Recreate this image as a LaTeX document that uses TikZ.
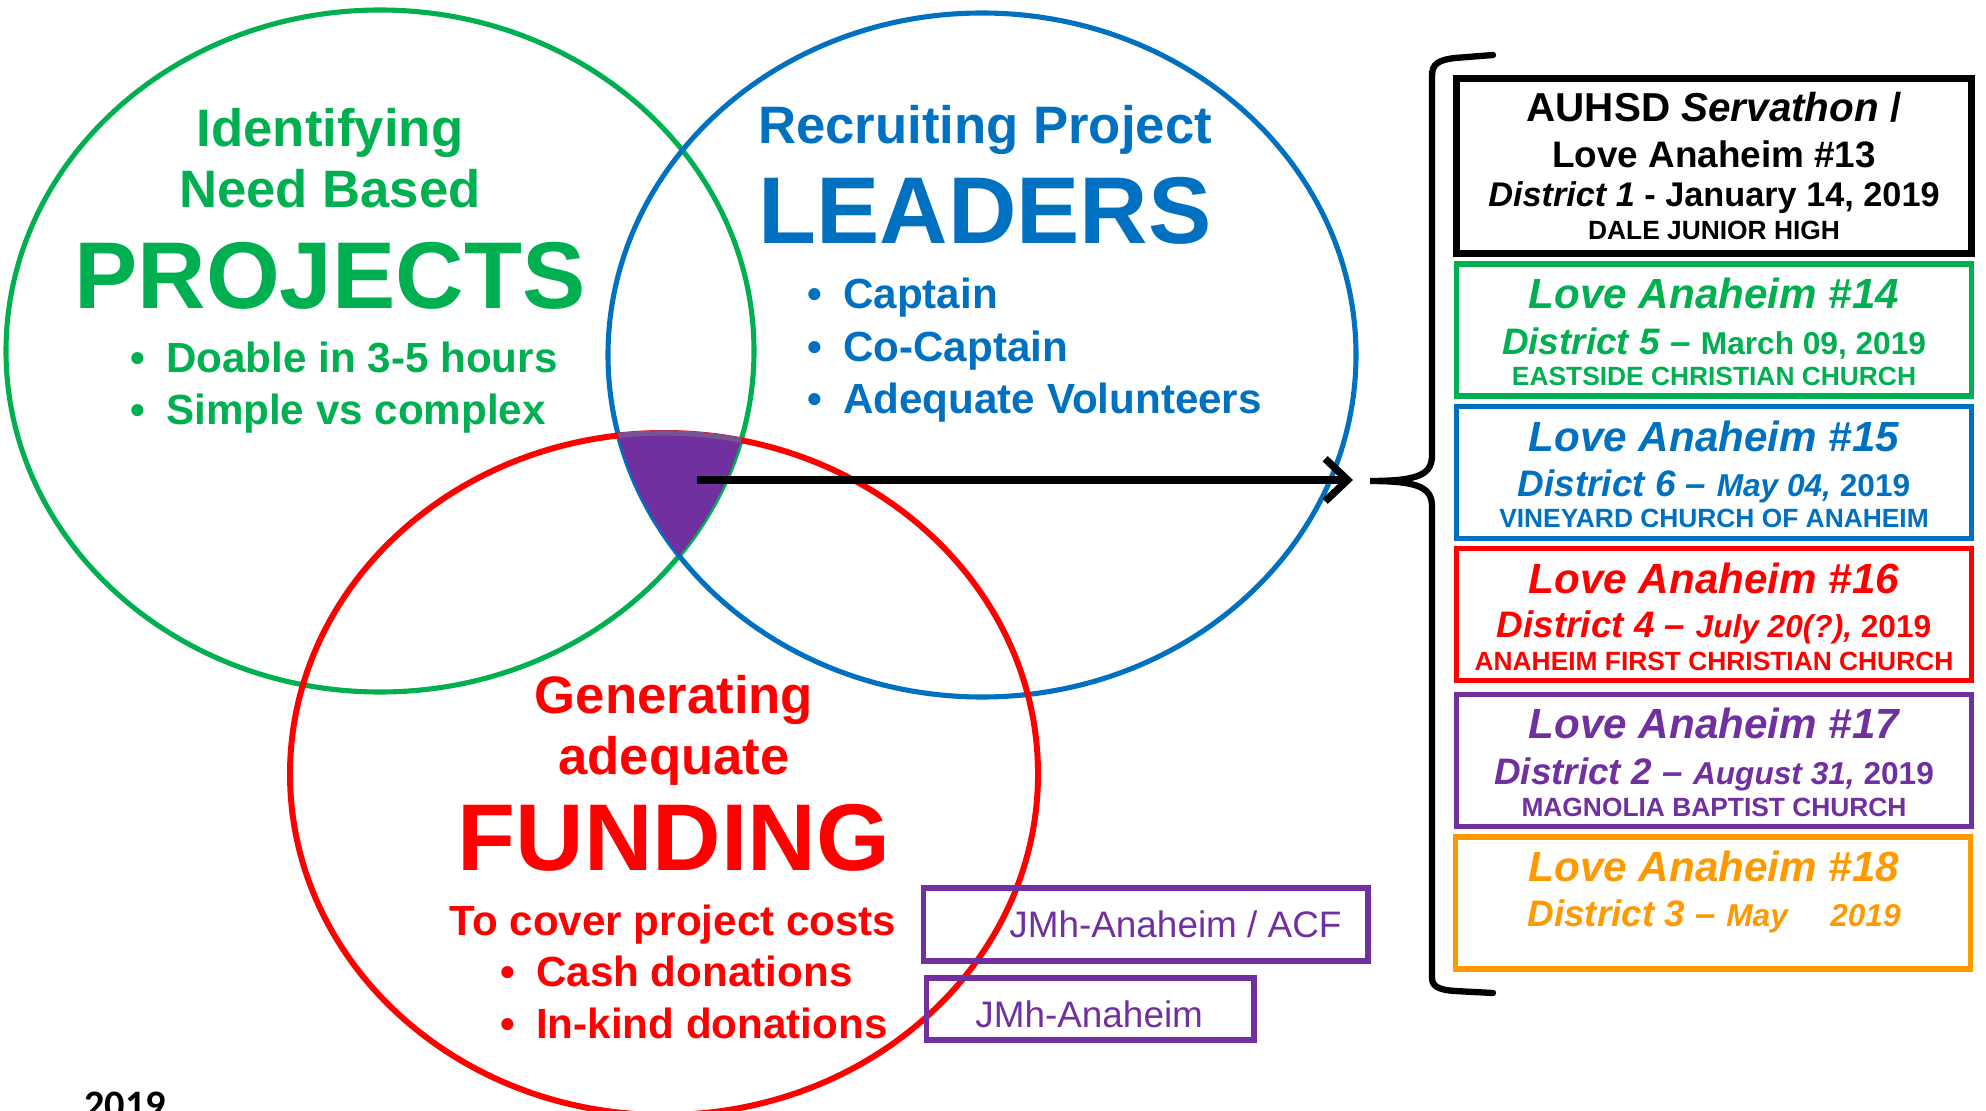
\documentclass[tikz,border=0pt]{standalone}
\usepackage{fontspec}
\setmainfont{Liberation Sans}
\newfontfamily\yearfont{Carlito}
\usetikzlibrary{arrows.meta}

\definecolor{vgreen}{HTML}{00B050}
\definecolor{vblue}{HTML}{0070C0}
\definecolor{vred}{HTML}{FF0000}
\definecolor{vpurple}{HTML}{7030A0}
\definecolor{vorange}{HTML}{FF9900}

\newcommand\datesize{\fontsize{18}{22}\selectfont}
\newcommand\bul{\makebox[0.85em][l]{•}}

\tikzset{
  % outline of each of the three sets
  ring/.style={line width=2.9pt},
  % text placed by its baseline
  txt/.style={inner sep=0pt, anchor=base},
  setlead/.style={txt, font=\fontsize{30}{36}\selectfont\bfseries},
  setword/.style={txt, font=\fontsize{54}{60}\selectfont\bfseries},
  setitem/.style={txt, anchor=base west, font=\fontsize{24}{29}\selectfont\bfseries},
  % boxes on the right
  eventbox/.style={draw, line width=3.3pt, minimum width=10.3cm, minimum height=2.64cm, inner sep=0pt},
  eventtitle/.style={txt, font=\fontsize{24}{29}\selectfont\bfseries\itshape},
  eventdate/.style={txt, font=\fontsize{21}{25}\selectfont\bfseries},
  eventplace/.style={txt, font=\fontsize{15}{18}\selectfont\bfseries},
  % sponsor boxes
  fundbox/.style={draw=vpurple, line width=2.9pt, inner sep=0pt},
  fundtext/.style={txt, anchor=base west, text=vpurple, font=\fontsize{21}{25}\selectfont},
}

\begin{document}
\begin{tikzpicture}[x=0.02cm, y=-0.02cm]
\useasboundingbox (0,0) rectangle (1986,1111);

% Circles
\draw[ring, vgreen] (380,351) ellipse (374 and 341);
\draw[ring, vblue] (982,355) ellipse (374 and 342);
\draw[ring, vred, line width=3.4pt] (664,774) ellipse (374 and 341);

% Common part
\begin{scope}
  \clip (380,351) ellipse (374 and 341);
  \clip (982,355) ellipse (374 and 342);
  \fill[vpurple, draw=vpurple!55!gray, line width=3pt] (664,774) ellipse (374 and 341);
\end{scope}

% Projects
\node[setlead, vgreen] (idf) at (330,147) {Identifying};
\node[setlead, vgreen] (need) at (330,208) {Need Based};
\node[setword, vgreen] (proj) at (330,309) {PROJECTS};
\node[setitem, vgreen] (doable) at (130,372) {\bul Doable in 3-5 hours};
\node[setitem, vgreen] (simple) at (130,424) {\bul Simple vs complex};

% Leaders
\node[setlead, vblue] (recr) at (985,144) {Recruiting Project};
\node[setword, vblue] (lead) at (985,244) {LEADERS};
\node[setitem, vblue] (capt) at (807,309) {\bul Captain};
\node[setitem, vblue] (cocapt) at (807,361) {\bul Co-Captain};
\node[setitem, vblue] (volun) at (807,413) {\bul Adequate Volunteers};

% Funding
\node[setlead, vred] (gen) at (674,713) {Generating};
\node[setlead, vred] (adeq) at (674,774) {adequate};
\node[setword, vred] (fund) at (674,870) {FUNDING};
\node[setitem, vred, anchor=base] (cover) at (673,935) {To cover project costs};
\node[setitem, vred] (cash) at (500,986) {\bul Cash donations};
\node[setitem, vred] (kind) at (500,1038) {\bul In-kind donations};

% Sponsors
\node[fundbox, minimum width=8.9cm, minimum height=1.46cm] (acfbox) at (1145.5,924.5) {};
\node[fundtext] (acf) at (1009,937) {JMh-Anaheim / ACF};
\node[fundbox, minimum width=6.56cm, minimum height=1.24cm] (jmhbox) at (1090,1009) {};
\node[fundtext] (jmh) at (975,1027) {JMh-Anaheim};

% Arrow to the events
\coordinate (core) at (697,480);
\coordinate (bracetip) at (1353,480);
\draw[line width=4.2pt, -{Straight Barb[length=0.45cm, width=0.85cm]}] (core) -- (bracetip);

% Brace
\draw[line width=3.6pt, line cap=round] (1493,55) -- (1455,58) .. controls (1438,60) and (1432,64) .. (1432,76)
  -- (1432,455) .. controls (1432,474) and (1420,481) .. (1370,481)
  .. controls (1420,481) and (1432,488) .. (1432,507)
  -- (1432,978) .. controls (1432,987) and (1440,990) .. (1455,991) -- (1493,993);

% Events
\node[eventbox, draw=black, line width=3.8pt, minimum height=3.5cm] (la13) at (1714,166) {};
\node[eventdate, font=\fontsize{23}{28}\selectfont\bfseries] (la13a) at (1714,122) {AUHSD \textit{Servathon} /};
\node[eventdate] (la13b) at (1714,168) {Love Anaheim \#13};
\node[eventdate, font=\fontsize{19.5}{24}\selectfont\bfseries] (la13c) at (1714,207) {\textit{District 1} - January 14, 2019};
\node[eventplace] (la13d) at (1714,240) {DALE JUNIOR HIGH};

\node[eventbox, draw=vgreen] (la14) at (1714,330) {};
\node[eventtitle, vgreen] (la14a) at (1714,309) {Love Anaheim \#14};
\node[eventdate, vgreen] (la14b) at (1714,354) {\textit{District 5 –} {\datesize March 09, 2019}};
\node[eventplace, vgreen] (la14c) at (1714,385) {EASTSIDE CHRISTIAN CHURCH};

\node[eventbox, draw=vblue] (la15) at (1714,472.5) {};
\node[eventtitle, vblue] (la15a) at (1714,451) {Love Anaheim \#15};
\node[eventdate, vblue] (la15b) at (1714,496) {\textit{District 6 –} {\datesize\textit{May 04,} 2019}};
\node[eventplace, vblue] (la15c) at (1714,527) {VINEYARD CHURCH OF ANAHEIM};

\node[eventbox, draw=vred] (la16) at (1714,614.5) {};
\node[eventtitle, vred] (la16a) at (1714,593) {Love Anaheim \#16};
\node[eventdate, vred] (la16b) at (1714,637) {\textit{District 4 –} {\datesize\textit{July 20(?),} 2019}};
\node[eventplace, vred] (la16c) at (1714,670) {ANAHEIM FIRST CHRISTIAN CHURCH};

\node[eventbox, draw=vpurple] (la17) at (1714,760.5) {};
\node[eventtitle, vpurple] (la17a) at (1714,738) {Love Anaheim \#17};
\node[eventdate, vpurple] (la17b) at (1714,784) {\textit{District 2 –} {\datesize\textit{August 31,} 2019}};
\node[eventplace, vpurple] (la17c) at (1714,816) {MAGNOLIA BAPTIST CHURCH};

\node[eventbox, draw=vorange] (la18) at (1713,903) {};
\node[eventtitle, vorange] (la18a) at (1714,881) {Love Anaheim \#18};
\node[eventdate, vorange] (la18b) at (1714,926) {\textit{District 3 –} {\datesize\textit{May}\hspace{1.3em}\textit{2019}}};

% Year
\node[txt, anchor=base west, font=\yearfont\fontsize{23}{28}\selectfont\bfseries] (year) at (84,1118) {2019};

\end{tikzpicture}
\end{document}
